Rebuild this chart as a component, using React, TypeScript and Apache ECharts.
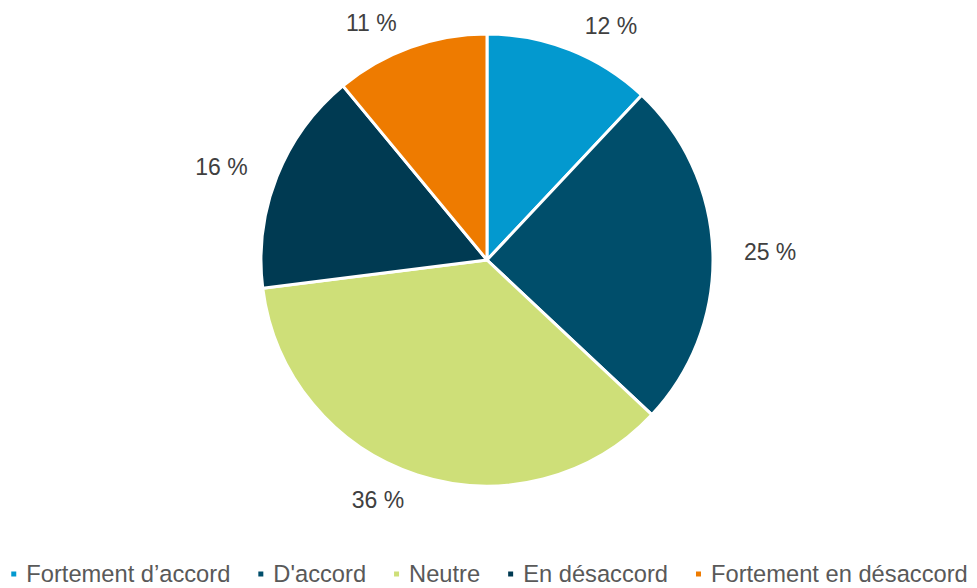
import React, { useEffect, useRef } from "react";
import * as echarts from "echarts";

const categories = ["Fortement d’accord", "D'accord", "Neutre", "En désaccord", "Fortement en désaccord"];
const values = [12, 25, 36, 16, 11];
const colors = ["#0399CF", "#004E6B", "#CEDF78", "#003A52", "#EE7B00"];

export default function App() {
  const ref = useRef<HTMLDivElement>(null);
  useEffect(() => {
    document.body.style.margin = "0";
    const chart = echarts.init(ref.current!, undefined, { renderer: "svg" });
    chart.setOption({
      animation: false,
      color: colors,
      legend: {
        top: 562,
        left: "center",
        padding: 0,
        icon: "rect",
        itemWidth: 7,
        itemHeight: 7,
        itemGap: 26,
        textStyle: {
          fontFamily: "Liberation Sans, Arial, sans-serif",
          fontSize: 23.7,
          lineHeight: 24,
          color: "#595959",
          padding: [0, 0, 0, 4],
        },
        data: categories,
      },
      series: [
        {
          type: "pie",
          center: [487, 260],
          radius: 226,
          startAngle: 90,
          clockwise: true,
          itemStyle: { borderColor: "#ffffff", borderWidth: 3 },
          label: {
            show: true,
            position: "outside",
            formatter: (p: any) => `${p.value} %`,
            fontFamily: "Liberation Sans, Arial, sans-serif",
            fontSize: 23,
            color: "#404040",
          },
          labelLine: { show: false, length: 26, length2: 0 },
          emphasis: { disabled: true },
          data: categories.map((c, i) => ({ name: c, value: values[i] })),
        },
      ],
    });
    return () => chart.dispose();
  }, []);
  return <div ref={ref} style={{ width: 977, height: 588 }} />;
}
